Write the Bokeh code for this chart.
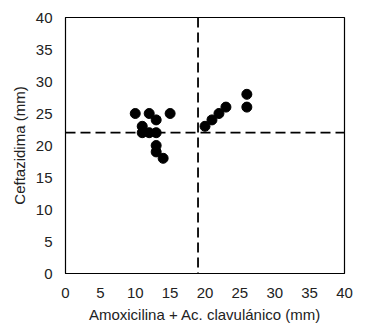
from bokeh.plotting import figure
from bokeh.models import Span, Range1d, FixedTicker
from bokeh.embed import file_html
from bokeh.resources import INLINE

amox = [10, 12, 15, 11, 13, 11, 12, 13, 13, 13, 14, 20, 21, 22, 23, 26, 26]
cefta = [25, 25, 25, 23, 24, 22, 22, 22, 20, 19, 18, 23, 24, 25, 26, 26, 28]
x_cut = 19
y_cut = 22
ticks = [0, 5, 10, 15, 20, 25, 30, 35, 40]

p = figure(width=365, height=334, output_backend="svg", toolbar_location=None,
           x_range=Range1d(0, 40), y_range=Range1d(0, 40),
           min_border_left=65, min_border_right=21, min_border_top=17, min_border_bottom=61)
p.background_fill_color = "white"
p.border_fill_color = "white"
p.outline_line_color = "black"
p.outline_line_width = 1.2
p.grid.visible = False

for ax in (p.xaxis, p.yaxis):
    ax.ticker = FixedTicker(ticks=ticks)
    ax.major_tick_in = 0
    ax.major_tick_out = 0
    ax.minor_tick_line_color = None
    ax.axis_line_color = "black"
    ax.major_label_text_font = "Liberation Sans"
    ax.major_label_text_font_size = "15px"
    ax.major_label_text_color = "#222222"
    ax.axis_label_text_font = "Liberation Sans"
    ax.axis_label_text_font_size = "15px"
    ax.axis_label_text_font_style = "normal"
    ax.axis_label_text_color = "#222222"

p.xaxis.axis_label = "Amoxicilina + Ac. clavulánico (mm)"
p.yaxis.axis_label = "Ceftazidima (mm)"
p.xaxis.major_label_standoff = 14
p.yaxis.major_label_standoff = 13
p.xaxis.axis_label_standoff = 5
p.yaxis.axis_label_standoff = 5

p.add_layout(Span(location=x_cut, dimension="height", line_color="black",
                  line_width=1.8, line_dash="10 5"))
p.add_layout(Span(location=y_cut, dimension="width", line_color="black",
                  line_width=1.8, line_dash="10 5"))

p.scatter(amox, cefta, size=10, color="black")

open("out.html", "w").write(file_html(p, INLINE))
